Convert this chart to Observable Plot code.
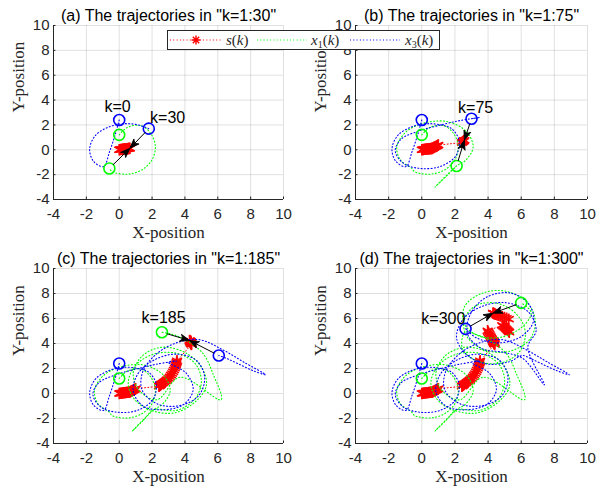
<!DOCTYPE html>
<html>
<head>
<meta charset="utf-8">
<script src="https://cdn.jsdelivr.net/npm/d3@7"></script>
<script src="https://cdn.jsdelivr.net/npm/@observablehq/plot@0.6"></script>
<style>
  body { margin: 0; background: #fff; }
  #wrap { position: relative; width: 607px; height: 489px; overflow: hidden; background: #fff; }
  .panel { position: absolute; }
  #legend { position: absolute; left: 167px; top: 30px; }
</style>
</head>
<body>
<div id="wrap"></div>
<script>
// ---------------- data ----------------
const panelKs = [30, 75, 185, 300];
const panelTitles = [
  '(a) The trajectories in "k=1:30"',
  '(b) The trajectories in "k=1:75"',
  '(c) The trajectories in "k=1:185"',
  '(d) The trajectories in "k=1:300"'
];
const xTicks = [-4, -2, 0, 2, 4, 6, 8, 10];
const yTicks = [-4, -2, 0, 2, 4, 6, 8, 10];

// target s(k): [k, x, y]
const sPath = [
  [0,0.00,0.00],[2,0.05,0.01],[4,0.09,0.02],[6,0.14,0.03],[8,0.19,0.04],[10,0.23,0.05],[12,0.28,0.06],
  [14,0.33,0.07],[16,0.37,0.07],[18,0.42,0.08],[20,0.46,0.09],[22,0.50,0.09],[24,0.54,0.10],[26,0.58,0.11],
  [28,0.62,0.11],[30,0.65,0.12],[33,0.70,0.16],[36,0.75,0.20],[39,0.80,0.24],
  [42,0.85,0.27],[45,0.89,0.30],[48,0.93,0.33],[51,0.97,0.36],[54,1.00,0.38],
  [57,2.42,0.58],[60,2.45,0.62],[63,2.48,0.65],[66,2.51,0.68],[69,2.53,0.71],[72,2.55,0.74],[75,2.57,0.77],
  [78,2.65,0.84],[81,2.74,0.92],[84,2.83,1.01],[87,2.92,1.11],[90,3.00,1.22],[93,3.08,1.34],[96,3.15,1.47],
  [99,3.22,1.60],[102,3.28,1.74],[105,3.33,1.88],[108,3.38,2.02],[111,3.42,2.16],[114,3.45,2.29],
  [117,3.48,2.41],[120,3.50,2.52],[123,3.52,2.62],
  [126,4.40,3.92],[132,4.36,3.98],[138,4.40,4.02],[144,4.34,4.06],[150,4.38,4.10],[156,4.32,4.12],
  [162,4.36,4.16],[168,4.30,4.14],[174,4.34,4.20],[180,4.30,4.22],[185,4.28,4.24],
  [188,4.24,4.34],[191,4.20,4.44],[194,4.16,4.54],[197,4.12,4.64],[200,4.08,4.74],[203,4.04,4.84],
  [206,4.00,4.94],[209,3.97,5.02],
  [212,4.85,5.45],[215,4.92,5.37],[218,4.99,5.29],[221,5.06,5.21],[224,5.12,5.13],[227,5.18,5.05],
  [230,5.24,4.97],[233,5.28,4.90],
  [236,5.25,5.95],[240,5.12,6.02],[244,4.99,6.08],[248,4.86,6.14],[252,4.73,6.20],[256,4.62,6.25],
  [260,4.54,6.29],[266,4.47,6.33],[272,4.42,6.36],[278,4.38,6.38],[284,4.35,6.40],[290,4.33,6.41],
  [296,4.31,6.42],[300,4.30,6.43]
];

// agent x1(k): [k, x, y]
const x1Path = [
  [0,0.00,1.20],[3,0.50,1.80],[6,1.30,1.95],[9,1.90,1.35],[12,2.20,0.30],[15,2.00,-0.80],[18,1.40,-1.60],
  [21,0.60,-1.95],[24,-0.10,-1.90],[27,-0.45,-1.75],[30,-0.60,-1.50],
  [34,-1.30,-0.80],[38,-1.50,0.30],[42,-0.90,1.50],[46,0.30,2.20],[50,1.60,2.25],[54,2.70,1.45],
  [58,3.10,0.20],[62,2.60,-0.90],[64,2.15,-1.25],[66,0.80,-3.00],[70,1.50,-2.10],[75,2.10,-1.30],
  [79,3.50,-1.35],[83,4.60,-0.45],[87,5.00,0.95],[91,4.65,2.35],[95,3.55,3.20],[99,2.10,3.15],
  [103,1.00,2.25],[107,0.55,0.85],[111,0.95,-0.50],[115,1.95,-1.35],[119,3.35,-1.55],[123,4.60,-0.70],
  [127,5.30,0.60],[131,5.05,2.00],[135,4.05,3.25],[139,2.60,3.70],[143,1.40,3.00],[147,0.85,1.60],
  [151,1.25,0.20],[155,2.30,-0.50],[159,3.70,1.30],[163,6.20,-0.50],[167,5.70,1.60],[172,5.10,3.20],
  [177,3.95,4.35],[181,3.20,4.75],[185,2.60,4.90],
  [190,2.45,3.60],[195,3.35,2.60],[200,4.80,2.45],[205,5.90,3.35],[210,6.25,4.90],[215,5.75,6.30],
  [220,4.60,7.20],[225,3.30,7.05],[230,2.55,5.90],[235,2.75,4.50],[240,3.80,3.50],[245,5.20,3.35],
  [250,6.50,4.30],[255,6.85,5.80],[260,6.35,7.30],[265,5.00,8.20],[270,3.60,8.00],[275,2.60,7.00],
  [280,2.55,5.60],[285,3.45,4.60],[290,4.95,4.55],[294,6.20,5.50],[297,6.60,6.50],[300,6.00,7.25]
];

// agent x3(k): [k, x, y]
const x3Path = [
  [0,0.00,2.40],[3,-0.25,1.20],[6,-0.60,-0.20],[9,-0.95,-1.35],[12,-1.55,-0.95],[15,-1.80,0.05],
  [18,-1.45,1.15],[21,-0.60,1.85],[24,0.35,2.10],[27,1.15,2.00],[30,1.80,1.70],
  [34,2.25,0.75],[38,2.05,-0.50],[42,1.10,-1.35],[46,-0.10,-1.50],[50,-1.10,-1.10],[54,-1.60,-0.10],
  [58,-1.25,0.85],[62,-0.20,1.50],[66,1.00,1.95],[70,2.30,2.35],[73,3.50,2.60],[75,3.00,2.50],
  [79,4.10,1.60],[83,4.50,0.30],[87,3.95,-0.85],[91,2.75,-1.30],[95,1.45,-1.00],[99,0.85,0.20],
  [103,1.15,1.60],[107,2.15,2.70],[111,3.45,3.15],[115,4.70,2.65],[119,5.20,1.30],[123,4.85,-0.15],
  [127,3.75,-0.95],[131,2.35,-0.85],[135,1.40,0.25],[139,1.45,1.80],[143,2.35,3.25],[147,3.60,4.10],
  [151,4.90,4.30],[155,6.30,3.50],[159,7.60,2.50],[163,8.90,1.50],[167,8.10,1.85],[172,7.20,2.40],
  [178,6.55,2.80],[185,6.06,3.04],
  [190,5.30,2.55],[195,4.00,2.35],[200,2.75,3.05],[205,2.10,4.45],[210,2.50,5.95],[215,3.70,7.00],
  [220,5.15,7.25],[225,6.45,6.50],[230,6.90,5.05],[234,6.40,3.70],[238,7.40,0.70],[242,6.10,2.80],
  [246,4.90,3.30],[250,3.60,3.60],[255,2.75,4.80],[260,2.95,6.40],[265,3.90,7.70],[270,5.30,8.05],
  [275,6.40,7.25],[280,6.75,5.85],[285,6.05,4.60],[290,4.65,4.05],[295,3.30,4.45],[300,2.64,5.17]
];

// k annotations (data coordinates)
const kLabels = [
  {panel: 0, text: "k=0", x: -0.1, y: 3.45},
  {panel: 0, text: "k=30", x: 2.95, y: 2.55},
  {panel: 1, text: "k=75", x: 3.25, y: 3.4},
  {panel: 2, text: "k=185", x: 2.7, y: 6.05},
  {panel: 3, text: "k=300", x: 1.3, y: 5.95}
];

const seriesNames = ["s(k)", "x1(k)", "x3(k)"];
const seriesColors = ["#ff0000", "#00ff00", "#0000ff"];

// ---------------- drawing ----------------
const toObj = a => a.map(([k, x, y]) => ({k, x, y}));
const S = toObj(sPath), X1 = toObj(x1Path), X3 = toObj(x3Path);
const at = (arr, K) => arr.find(d => d.k === K);

const layout = [
  {left: 0,   top: 0,   width: 300, height: 240, mL: 53, mR: 17, mT: 25, mB: 41},
  {left: 300, top: 0,   width: 307, height: 240, mL: 55, mR: 20, mT: 25, mB: 41},
  {left: 0,   top: 240, width: 300, height: 249, mL: 53, mR: 17, mT: 28, mB: 46},
  {left: 300, top: 240, width: 307, height: 249, mL: 55, mR: 20, mT: 28, mB: 46}
];

const wrap = document.getElementById("wrap");
const dash = "1 2.3";
const axisColor = "#262626";
const serif = "'Liberation Serif', 'Times New Roman', serif";

// filled arrowhead symbol, tip at the origin, pointing up
const headSymbol = {
  draw(context) {
    context.moveTo(0, 0);
    context.lineTo(-3.6, 9.5);
    context.lineTo(0, 7);
    context.lineTo(3.6, 9.5);
    context.closePath();
  }
};

panelKs.forEach((K, i) => {
  const L = layout[i];
  const kx = (L.width - L.mL - L.mR) / 14, ky = (L.height - L.mT - L.mB) / 14;
  const sSub = S.filter(d => d.k <= K);
  const x1Sub = X1.filter(d => d.k <= K);
  const x3Sub = X3.filter(d => d.k <= K);
  const sK = at(S, K);
  const circles = [
    {...X1[0], c: seriesColors[1]}, {...at(X1, K), c: seriesColors[1]},
    {...X3[0], c: seriesColors[2]}, {...at(X3, K), c: seriesColors[2]}
  ];
  const arrows = [at(X3, K), at(X1, K)].map(a => {
    const dxs = (sK.x - a.x) * kx, dys = -(sK.y - a.y) * ky;
    return {x1: a.x, y1: a.y, x2: sK.x, y2: sK.y, angle: Math.atan2(dxs, -dys) * 180 / Math.PI};
  });
  const labels = kLabels.filter(d => d.panel === i);

  const chart = Plot.plot({
    width: L.width, height: L.height,
    marginLeft: L.mL, marginRight: L.mR, marginTop: L.mT, marginBottom: L.mB,
    x: {domain: [-4, 10]},
    y: {domain: [-4, 10]},
    color: {type: "identity"},
    style: {fontFamily: "'Liberation Sans', Arial, sans-serif", fontSize: "15px", color: axisColor, background: "transparent", overflow: "visible"},
    marks: [
      Plot.gridX(xTicks, {stroke: "#000", strokeOpacity: 0.12}),
      Plot.gridY(yTicks, {stroke: "#000", strokeOpacity: 0.12}),
      Plot.ruleX([-4], {stroke: axisColor}),
      Plot.ruleY([-4], {stroke: axisColor}),
      Plot.ruleX(xTicks, {x: d => d, y1: -4, y2: -3.8, stroke: axisColor}),
      Plot.ruleY(yTicks, {y: d => d, x1: -4, x2: -3.85, stroke: axisColor}),
      Plot.axisX(xTicks, {tickSize: 0, tickPadding: 9, label: null, fontSize: 15, fill: axisColor, tickFormat: d => String(d)}),
      Plot.axisY(yTicks, {tickSize: 0, tickPadding: 4, label: null, fontSize: 15, fill: axisColor, tickFormat: d => String(d)}),
      Plot.line(sSub, {x: "x", y: "y", stroke: seriesColors[0], strokeWidth: 1, strokeDasharray: dash}),
      Plot.dot(sSub, {x: "x", y: "y", symbol: "asterisk", r: 5.4, stroke: seriesColors[0], strokeWidth: 1.6}),
      Plot.line(x1Sub, {x: "x", y: "y", stroke: seriesColors[1], strokeWidth: 1.1, strokeDasharray: dash, curve: "catmull-rom"}),
      Plot.line(x3Sub, {x: "x", y: "y", stroke: seriesColors[2], strokeWidth: 1.1, strokeDasharray: dash, curve: "catmull-rom"}),
      Plot.dot(circles, {x: "x", y: "y", r: 5.5, stroke: "c", strokeWidth: 1.6, fill: "none"}),
      Plot.arrow(arrows, {x1: "x1", y1: "y1", x2: "x2", y2: "y2", stroke: "#000", strokeWidth: 1, headLength: 0, insetStart: 5.5, insetEnd: 5}),
      Plot.dot(arrows, {x: "x2", y: "y2", symbol: headSymbol, rotate: "angle", fill: "#000", stroke: "#000", strokeWidth: 0.8}),
      Plot.text(labels, {x: "x", y: "y", text: "text", fontSize: 16, fill: "#000"}),
      Plot.text([panelTitles[i]], {text: d => d, frameAnchor: "top", dy: -10, lineAnchor: "middle", fontSize: 16, fill: "#000"}),
      Plot.text(["X-position"], {text: d => d, frameAnchor: "bottom", dy: 33, lineAnchor: "middle", fontSize: 17, fontFamily: serif, fill: axisColor}),
      Plot.text(["Y-position"], {text: d => d, frameAnchor: "left", dx: -35, rotate: -90, lineAnchor: "middle", fontSize: 17, fontFamily: serif, fill: axisColor})
    ]
  });
  const div = document.createElement("div");
  div.className = "panel";
  div.style.left = L.left + "px";
  div.style.top = L.top + "px";
  div.appendChild(chart);
  wrap.appendChild(div);
});

// ---------------- legend ----------------
const ns = "http://www.w3.org/2000/svg";
const leg = document.createElementNS(ns, "svg");
leg.setAttribute("id", "legend");
leg.setAttribute("width", 273);
leg.setAttribute("height", 20);
const legItems = [
  {line: [3, 55], star: 29, text: 59},
  {line: [90, 140], star: null, text: 144},
  {line: [183, 233], star: null, text: 238}
];
let html = `<rect x="0.5" y="0.5" width="272" height="19" fill="#fff" stroke="${axisColor}" stroke-width="1"/>`;
legItems.forEach((it, j) => {
  const c = seriesColors[j];
  html += `<line x1="${it.line[0]}" x2="${it.line[1]}" y1="10" y2="10" stroke="${c}" stroke-width="1.1" stroke-dasharray="${dash}"/>`;
  if (it.star != null) {
    const r = 4.5, cx = it.star, cy = 10, q = r * Math.SQRT1_2;
    html += `<path d="M${cx - r},${cy}H${cx + r}M${cx},${cy - r}V${cy + r}M${cx - q},${cy - q}L${cx + q},${cy + q}M${cx - q},${cy + q}L${cx + q},${cy - q}" stroke="${c}" stroke-width="1.4"/>`;
  }
  const name = seriesNames[j];
  const base = name[0], sub = name.length > 4 ? name[1] : null;
  let t = `<text x="${it.text}" y="15" font-family="${serif.replace(/'/g, "&apos;")}" font-size="15" fill="#262626">`;
  t += `<tspan font-style="italic">${base}</tspan>`;
  if (sub) t += `<tspan font-size="10" dy="3">${sub}</tspan><tspan dy="-3">(</tspan>`;
  else t += `<tspan>(</tspan>`;
  t += `<tspan font-style="italic">k</tspan><tspan>)</tspan></text>`;
  html += t;
});
leg.innerHTML = html;
wrap.appendChild(leg);
</script>
</body>
</html>
